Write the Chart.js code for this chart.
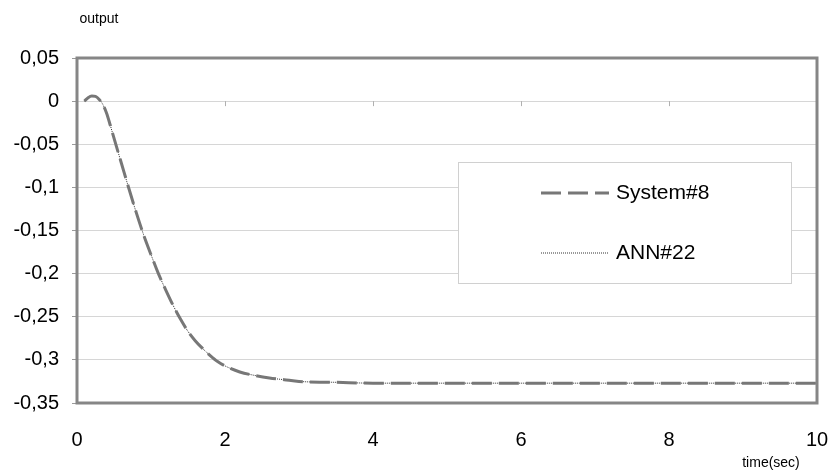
<!DOCTYPE html>
<html>
<head>
<meta charset="utf-8">
<script src="https://cdn.jsdelivr.net/npm/chart.js@4.4.0/dist/chart.umd.min.js"></script>
<style>
  body { margin: 0; background: #fff; }
  .chart-container { position: relative; width: 831px; height: 473px; }
</style>
</head>
<body>
<div class="chart-container">
  <canvas id="myChart"></canvas>
</div>
<script>
const time = [0.1, 0.15, 0.2, 0.25, 0.3, 0.35, 0.4, 0.45, 0.5, 0.6, 0.7, 0.8, 0.9, 1.0, 1.1, 1.2, 1.3, 1.4,
  1.5, 1.6, 1.7, 1.8, 1.9, 2.0, 2.2, 2.4, 2.6, 2.8, 3.0, 3.5, 4.0, 5.0, 6.0, 7.0, 8.0, 9.0, 10.0];
const system8 = [0, 0.004, 0.006, 0.0055, 0.002, -0.004, -0.014, -0.028, -0.043, -0.072, -0.101, -0.129,
  -0.155, -0.178, -0.2, -0.219, -0.237, -0.253, -0.267, -0.278, -0.287, -0.295, -0.302, -0.307, -0.314,
  -0.318, -0.321, -0.323, -0.325, -0.326, -0.327, -0.327, -0.327, -0.327, -0.327, -0.327, -0.327];
const ann22 = [0, 0.004, 0.006, 0.0055, 0.002, -0.004, -0.014, -0.028, -0.043, -0.072, -0.101, -0.129,
  -0.155, -0.178, -0.2, -0.219, -0.237, -0.253, -0.267, -0.278, -0.287, -0.295, -0.302, -0.307, -0.314,
  -0.318, -0.321, -0.323, -0.325, -0.326, -0.327, -0.327, -0.327, -0.327, -0.327, -0.327, -0.327];
const seriesNames = ["System#8", "ANN#22"];
const yTicks = [0.05, 0, -0.05, -0.1, -0.15, -0.2, -0.25, -0.3, -0.35];
const xTicks = [0, 2, 4, 6, 8, 10];

const FONT = "'Liberation Sans', Arial, sans-serif";
const toPoints = (vals) => vals.map((v, i) => ({ x: time[i], y: v }));

// frame, legend box, axis captions and the small ticks on the zero line
const plotFrame = {
  id: "plotFrame",
  afterDatasetsDraw(chart) {
    const { ctx, chartArea: a, scales } = chart;
    ctx.save();

    // ticks along y = 0
    const y0 = scales.y.getPixelForValue(0);
    ctx.strokeStyle = "#b0b0b0";
    ctx.lineWidth = 1;
    xTicks.slice(1, -1).forEach((t) => {
      const x = Math.round(scales.x.getPixelForValue(t)) + 0.5;
      ctx.beginPath();
      ctx.moveTo(x, y0);
      ctx.lineTo(x, y0 + 5);
      ctx.stroke();
    });

    // legend
    const lx = 458.5, ly = 162.5, lw = 333, lh = 121;
    ctx.fillStyle = "#fff";
    ctx.fillRect(lx, ly, lw, lh);
    ctx.strokeStyle = "#d0d0d0";
    ctx.lineWidth = 1;
    ctx.strokeRect(lx, ly, lw, lh);

    const rows = [193, 253];
    chart.data.datasets.forEach((ds, i) => {
      ctx.strokeStyle = ds.borderColor;
      ctx.lineWidth = ds.borderWidth;
      ctx.setLineDash(ds.borderDash || []);
      ctx.beginPath();
      ctx.moveTo(541, rows[i]);
      ctx.lineTo(609, rows[i]);
      ctx.stroke();
      ctx.setLineDash([]);
      ctx.fillStyle = "#000";
      ctx.font = "21px " + FONT;
      ctx.textAlign = "left";
      ctx.textBaseline = "middle";
      ctx.fillText(ds.label, 616, rows[i]);
    });

    // plot border
    ctx.strokeStyle = "#868686";
    ctx.lineWidth = 3;
    ctx.strokeRect(a.left, a.top, a.right - a.left, a.bottom - a.top);

    // captions
    ctx.fillStyle = "#000";
    ctx.font = "14px " + FONT;
    ctx.textAlign = "center";
    ctx.textBaseline = "middle";
    ctx.fillText("output", 99, 19);
    ctx.fillText("time(sec)", 771, 463);
    ctx.restore();
  },
};

const ctx = document.getElementById("myChart").getContext("2d");
const myChart = new Chart(ctx, {
  type: "line",
  data: {
    datasets: [
      {
        label: seriesNames[0],
        data: toPoints(system8),
        borderColor: "#777777",
        borderWidth: 3,
        borderDash: [20, 7],
        pointRadius: 0,
        cubicInterpolationMode: "monotone",
      },
      {
        label: seriesNames[1],
        data: toPoints(ann22),
        borderColor: "#333333",
        borderWidth: 1,
        borderDash: [1, 1],
        pointRadius: 0,
        cubicInterpolationMode: "monotone",
      },
    ],
  },
  options: {
    responsive: true,
    maintainAspectRatio: false,
    animation: false,
    layout: { padding: { top: 58, right: 14, bottom: 0, left: 0 } },
    plugins: {
      legend: { display: false },
      tooltip: { enabled: false },
    },
    scales: {
      x: {
        type: "linear",
        min: 0,
        max: 10,
        afterBuildTicks: (s) => { s.ticks = xTicks.map((v) => ({ value: v })); },
        afterFit: (s) => { s.height = 70; s.paddingLeft = 0; s.paddingRight = 0; },
        grid: { display: false },
        border: { display: false },
        ticks: {
          padding: 17,
          color: "#000",
          font: { family: FONT, size: 20 },
          maxRotation: 0,
        },
      },
      y: {
        min: -0.35,
        max: 0.05,
        afterBuildTicks: (s) => { s.ticks = yTicks.map((v) => ({ value: v })); },
        afterFit: (s) => { s.width = 77; },
        grid: { color: "#d6d6d6", tickColor: "#9a9a9a", tickLength: 5 },
        border: { display: false },
        ticks: {
          padding: 13,
          color: "#000",
          font: { family: FONT, size: 20 },
          callback: (v) => String(Math.round(v * 100) / 100).replace(".", ","),
        },
      },
    },
  },
  plugins: [plotFrame],
});
</script>
</body>
</html>
